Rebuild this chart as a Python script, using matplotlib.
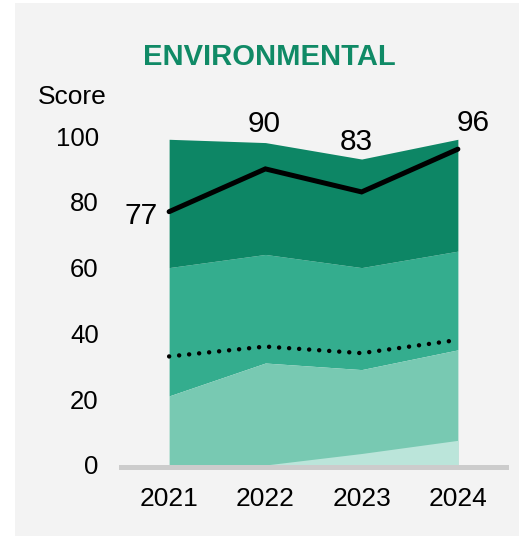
import matplotlib
matplotlib.use("Agg")
import matplotlib.pyplot as plt
from matplotlib.patches import Rectangle
import numpy as np

plt.rcParams['font.family'] = ['Liberation Sans', 'DejaVu Sans']

years = ['2021', '2022', '2023', '2024']
band_lightest = [0, 0, 3.5, 7.5]      # cumulative top of lightest band
band_light = [21, 31, 29, 35]         # cumulative top of light band
band_medium = [60, 64, 60, 65]        # cumulative top of medium band
band_dark = [99, 98, 93, 99]          # cumulative top of dark band
score = [77, 90, 83, 96]
benchmark = [33, 36, 34, 38]
yticks = [0, 20, 40, 60, 80, 100]

W, H = 519, 536
fig = plt.figure(figsize=(W / 100, H / 100), dpi=100, facecolor='white')
fig.patches.append(Rectangle((15 / W, 0), 1, 1 - 3 / H, transform=fig.transFigure,
                             facecolor='#f3f3f3', edgecolor='none', zorder=-10))

ax = fig.add_axes([121 / W, 1 - 465 / H, (506 - 121) / W, (465 - 136) / H])
ax.set_facecolor('none')
x = np.arange(len(years))

c_lightest, c_light, c_medium, c_dark = '#bbe5da', '#78c9b2', '#34ad8e', '#0d8665'
zero = np.zeros(len(years))
ax.fill_between(x, band_light, band_medium, color=c_medium, lw=0, zorder=1)
ax.fill_between(x, band_medium, band_dark, color=c_dark, lw=0, zorder=1)
ax.fill_between(x, zero, band_light, color=c_light, lw=0, zorder=1)
ax.fill_between(x, zero, band_lightest, color=c_lightest, lw=0, zorder=1)

ax.plot(x, score, color='black', lw=3.6, solid_capstyle='round', solid_joinstyle='miter', zorder=3, clip_on=False)
ax.plot(x, benchmark, color='black', lw=3.2, ls=(0, (0.01, 2.25)), dash_capstyle='round', zorder=3, clip_on=False)

offsets = [(-8, -3, 'right'), (-1, 32, 'center'), (-4, 36, 'center'), (11, 19, 'center')]
for xi, v, (dx, dy, ha) in zip(x, score, offsets):
    ax.annotate(str(v), (xi, v), xytext=(dx, dy), textcoords='offset points',
                ha=ha, va='center', fontsize=21.5, color='black')

ax.set_xlim(-0.5, 3.5)
ax.set_ylim(0, 100)
ax.set_xticks(x)
ax.set_xticklabels(years)
ax.set_yticks(yticks)
ax.tick_params(axis='both', length=0, colors='black')
ax.tick_params(axis='y', pad=16, labelsize=18.5)
ax.tick_params(axis='x', pad=14, labelsize=19)
for s in ['top', 'right', 'left']:
    ax.spines[s].set_visible(False)
ax.spines['bottom'].set_color('#cccccc')
ax.spines['bottom'].set_linewidth(3.6)
ax.spines['bottom'].set_position(('outward', 1.5))
ax.spines['bottom'].set_zorder(2)

fig.text(269 / W, 1 - 57 / H, 'ENVIRONMENTAL', ha='center', va='center',
         fontsize=21, fontweight='bold', color='#108a66')
fig.text(38 / W, 1 - 97 / H, 'Score', ha='left', va='center', fontsize=19, color='black')

fig.savefig('out.png', dpi=100, facecolor=fig.get_facecolor())
